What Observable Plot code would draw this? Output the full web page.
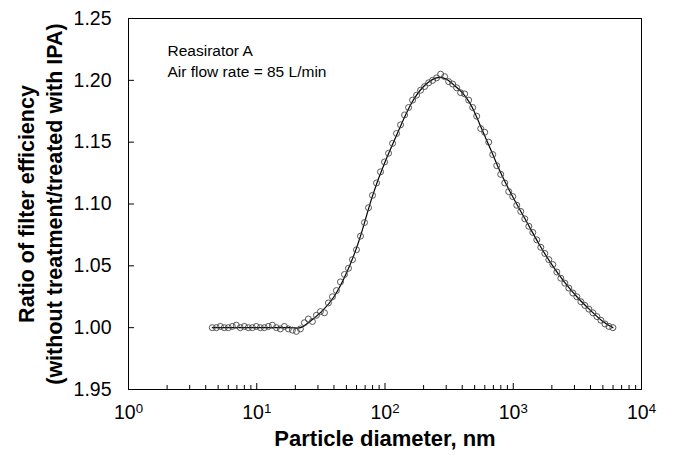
<!DOCTYPE html>
<html>
<head>
<meta charset="utf-8">
<script src="https://cdn.jsdelivr.net/npm/d3@7"></script>
<script src="https://cdn.jsdelivr.net/npm/@observablehq/plot@0.6"></script>
<style>
  html, body { margin: 0; padding: 0; background: #fff; }
  #chart svg { display: block; }
</style>
</head>
<body>
<div id="chart"></div>
<script>
// Measured data (open circles): particle diameter (nm) and efficiency ratio
const diameters = [4.50, 4.84, 5.20, 5.58, 6.00, 6.45, 6.93, 7.44, 8.00, 8.59,
  9.24, 9.92, 10.66, 11.46, 12.31, 13.23, 14.22, 15.28, 16.42, 17.64,
  18.96, 20.37, 21.89, 23.52, 25.28, 27.16, 29.19, 31.37, 33.71, 36.22,
  38.92, 41.82, 44.94, 48.30, 51.90, 55.77, 59.93, 64.40, 69.20, 74.36,
  79.91, 85.87, 92.27, 99.16, 106.6, 114.5, 123.0, 132.2, 142.1, 152.7,
  164.1, 176.3, 189.5, 203.6, 218.8, 235.1, 252.6, 271.5, 291.7, 313.5,
  336.9, 362.0, 389.0, 418.0, 449.2, 482.7, 518.7, 557.4, 599.0, 643.7,
  691.7, 743.3, 798.7, 858.3, 922.3, 991.1, 1065, 1144, 1230, 1322,
  1420, 1526, 1640, 1762, 1894, 2035, 2187, 2350, 2525, 2713,
  2916, 3133, 3367, 3618, 3888, 4178, 4490, 4825, 5185, 5572, 5987];
const ratios = [1.000, 1.000, 1.001, 1.000, 1.000, 1.001, 1.002, 1.000, 1.001, 1.000,
  1.000, 1.001, 1.000, 1.000, 1.001, 1.002, 1.000, 0.999, 1.001, 0.999,
  0.998, 0.997, 0.999, 1.004, 1.007, 1.005, 1.010, 1.013, 1.012, 1.020,
  1.025, 1.030, 1.037, 1.043, 1.048, 1.055, 1.063, 1.074, 1.085, 1.097,
  1.107, 1.117, 1.126, 1.134, 1.141, 1.149, 1.157, 1.164, 1.172, 1.178,
  1.184, 1.188, 1.192, 1.195, 1.198, 1.200, 1.202, 1.205, 1.203, 1.199,
  1.197, 1.194, 1.190, 1.189, 1.184, 1.178, 1.171, 1.161, 1.158, 1.150,
  1.140, 1.131, 1.124, 1.117, 1.110, 1.106, 1.099, 1.094, 1.088, 1.082,
  1.077, 1.071, 1.065, 1.060, 1.055, 1.051, 1.045, 1.040, 1.036, 1.032,
  1.028, 1.025, 1.021, 1.018, 1.015, 1.012, 1.009, 1.006, 1.003, 1.001, 1.000];

// Fitted curve (solid line)
const fitDiameters = [4.5, 10, 18, 22, 26, 32, 40, 50, 63, 79, 100, 126, 158, 200, 251,
  300, 355, 400, 450, 500, 600, 700, 800, 1000, 1250, 1600, 2000, 2500, 3200, 4000, 5000, 6000];
const fitRatios = [1.000, 1.000, 1.000, 1.000, 1.005, 1.013, 1.025, 1.044, 1.071, 1.105, 1.134,
  1.158, 1.180, 1.195, 1.202, 1.201, 1.195, 1.190, 1.183, 1.174, 1.155, 1.139, 1.125, 1.105,
  1.087, 1.067, 1.051, 1.037, 1.024, 1.014, 1.005, 1.000];

// Axes
const xTicks = [1, 10, 100, 1000, 10000];
const xTickExponents = ["0", "1", "2", "3", "4"];
const xMinorTicks = [2,3,4,5,6,7,8,9, 20,30,40,50,60,70,80,90, 200,300,400,500,600,700,800,900,
  2000,3000,4000,5000,6000,7000,8000,9000];
const yTicks = [0.95, 1.00, 1.05, 1.10, 1.15, 1.20, 1.25];
const yTickLabels = ["1.95", "1.00", "1.05", "1.10", "1.15", "1.20", "1.25"];

const xTitle = "Particle diameter, nm";
const yTitle1 = "Ratio of filter efficiency";
const yTitle2 = "(without treatment/treated with IPA)";
const annotation = "Reasirator A\nAir flow rate = 85 L/min";

const points = diameters.map((d, i) => ({d, r: ratios[i]}));
const fit = fitDiameters.map((d, i) => ({d, r: fitRatios[i]}));

const FONT = "Arial, 'Liberation Sans', Helvetica, sans-serif";

const chart = Plot.plot({
  width: 673,
  height: 462,
  marginLeft: 128,
  marginRight: 32,
  marginTop: 18,
  marginBottom: 73,
  style: {fontFamily: FONT, color: "#000", background: "#fff"},
  x: {type: "log", domain: [1, 10000]},
  y: {domain: [0.95, 1.25]},
  marks: [
    Plot.frame({stroke: "#000", strokeWidth: 1}),
    // inward major/minor ticks
    Plot.ruleX(xTicks, {x: d => d, y1: 0.95, y2: 0.95, insetBottom: 6, stroke: "#000"}),
    Plot.ruleX(xMinorTicks, {x: d => d, y1: 0.95, y2: 0.95, insetBottom: 4, stroke: "#000"}),
    Plot.ruleY(yTicks, {y: d => d, x1: 1, x2: 1, insetRight: -6, stroke: "#000"}),
    Plot.axisX({ticks: xTicks, tickSize: 0, tickPadding: 16, fontSize: 19.5,
      tickFormat: (d) => "10^" + xTickExponents[xTicks.indexOf(d)], label: null}),
    Plot.axisY({ticks: yTicks, tickSize: 0, tickPadding: 17, fontSize: 19.5,
      tickFormat: (d) => yTickLabels[yTicks.indexOf(d)], label: null}),
    Plot.line(fit, {x: "d", y: "r", curve: "natural", stroke: "#000", strokeWidth: 1.2}),
    Plot.dot(points, {x: "d", y: "r", r: 3, stroke: "#444", strokeWidth: 0.9, fill: "none"}),
    Plot.text([annotation], {frameAnchor: "top-left", dx: 39, dy: 23, textAnchor: "start",
      lineAnchor: "top", lineHeight: 1.35, fontSize: 15.5, fill: "#000"}),
    Plot.text([xTitle], {frameAnchor: "bottom", dy: 56, fontSize: 22, fontWeight: "bold", fill: "#000"}),
    Plot.text([yTitle1], {frameAnchor: "left", textAnchor: "middle", dx: -101, rotate: -90,
      fontSize: 21.5, fontWeight: "bold", fill: "#000"}),
    Plot.text([yTitle2], {frameAnchor: "left", textAnchor: "middle", dx: -73, rotate: -90,
      fontSize: 21.5, fontWeight: "bold", fill: "#000"})
  ]
});

// Render exponents as superscripts
chart.querySelectorAll('g[aria-label="x-axis tick label"] text').forEach((t) => {
  const s = t.textContent;
  if (s.includes("^")) {
    const [base, exp] = s.split("^");
    t.textContent = "";
    t.appendChild(document.createTextNode(base));
    const sup = document.createElementNS("http://www.w3.org/2000/svg", "tspan");
    sup.setAttribute("dy", "-0.45em");
    sup.setAttribute("font-size", "0.68em");
    sup.textContent = exp;
    t.appendChild(sup);
  }
});

document.getElementById("chart").appendChild(chart);
</script>
</body>
</html>
